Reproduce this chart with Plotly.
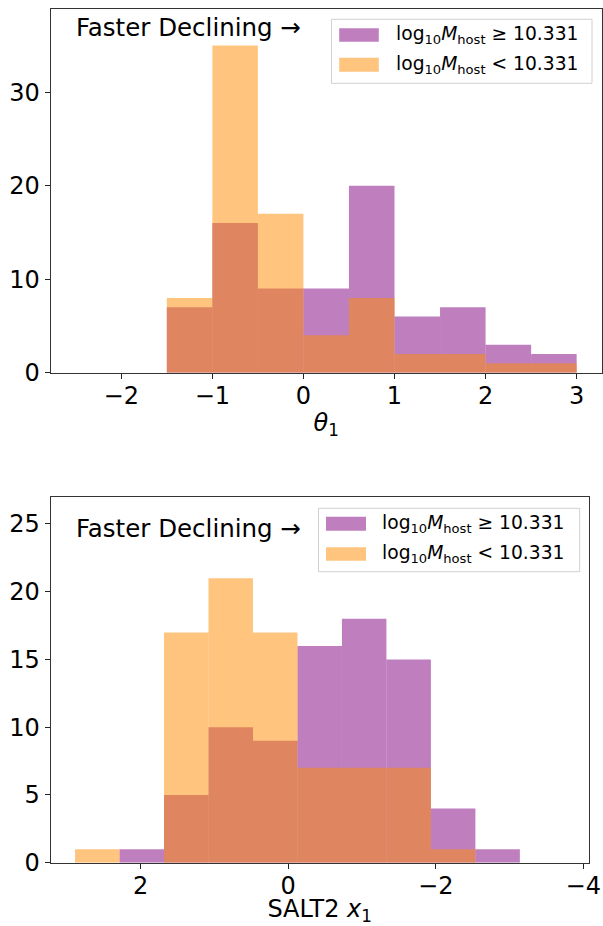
import numpy as np
import plotly.graph_objects as go

# ---------------- data ----------------
theta_edges = [-2.5, -2.0, -1.5, -1.0, -0.5, 0.0, 0.5, 1.0, 1.5, 2.0, 2.5, 3.0]
theta_high = [0, 0, 7, 16, 9, 9, 20, 6, 7, 3, 2]
theta_low = [0, 0, 8, 35, 17, 4, 8, 2, 2, 1, 1]

x1_edges = [2.89, 2.287, 1.684, 1.081, 0.478, -0.125, -0.728, -1.331, -1.934, -2.537, -3.14]
x1_high = [0, 1, 5, 10, 9, 16, 18, 15, 4, 1]
x1_low = [1, 0, 17, 21, 17, 7, 7, 7, 1, 0]

label_high = "log<sub>10</sub><i>M</i><sub>host</sub> ≥ 10.331"
label_low = "log<sub>10</sub><i>M</i><sub>host</sub> < 10.331"
note_text = "Faster Declining →"

theta_ticks = [-2, -1, 0, 1, 2, 3]
theta_yticks = [0, 10, 20, 30]
x1_ticks = [2, 0, -2, -4]
x1_yticks = [0, 5, 10, 15, 20, 25]

# ---------------- styling ----------------
W, H = 603, 926
FONT = "DejaVu Sans"
PURPLE = "rgba(128,0,128,0.5)"
ORANGE = "rgba(255,140,0,0.5)"


def px(x, y):
    return x / W, 1 - y / H


def centers_widths(edges):
    e = np.asarray(edges, dtype=float)
    return (e[:-1] + e[1:]) / 2, np.abs(np.diff(e))


fig = go.Figure()

tc, tw = centers_widths(theta_edges)
xc, xw = centers_widths(x1_edges)

fig.add_trace(go.Bar(x=tc, y=theta_high, width=tw, marker=dict(color=PURPLE, line=dict(width=0)),
                     name="high", xaxis="x", yaxis="y", showlegend=False))
fig.add_trace(go.Bar(x=tc, y=theta_low, width=tw, marker=dict(color=ORANGE, line=dict(width=0)),
                     name="low", xaxis="x", yaxis="y", showlegend=False))
fig.add_trace(go.Bar(x=xc, y=x1_high, width=xw, marker=dict(color=PURPLE, line=dict(width=0)),
                     name="high", xaxis="x2", yaxis="y2", showlegend=False))
fig.add_trace(go.Bar(x=xc, y=x1_low, width=xw, marker=dict(color=ORANGE, line=dict(width=0)),
                     name="low", xaxis="x2", yaxis="y2", showlegend=False))

axis_common = dict(
    showline=True, linecolor="#333", linewidth=1, mirror=True,
    ticks="outside", ticklen=5, tickwidth=1, tickcolor="#222",
    showgrid=False, zeroline=False, automargin=False,
    tickfont=dict(family=FONT, size=24, color="black"),
)

top_dom_y = [1 - 372.7 / H, 1 - 8.5 / H]
bot_dom_y = [1 - 862.7 / H, 1 - 497.3 / H]

fig.update_layout(
    width=W, height=H,
    margin=dict(l=0, r=0, t=0, b=0),
    paper_bgcolor="white", plot_bgcolor="white",
    barmode="overlay",
    showlegend=False,
    font=dict(family=FONT, color="black"),
    xaxis=dict(axis_common, domain=[50.7 / W, 601.7 / W], anchor="y",
               range=[-2.775, 3.275], tickvals=theta_ticks, ticklabelstandoff=-4,
               title=dict(text="<i>θ</i><sub>1</sub>", font=dict(family=FONT, size=24), standoff=5)),
    yaxis=dict(axis_common, domain=top_dom_y, anchor="x",
               range=[0, 38.95], tickvals=theta_yticks),
    xaxis2=dict(axis_common, domain=[50.7 / W, 588.7 / W], anchor="y2",
                range=[3.22, -4.073], tickvals=x1_ticks, ticklabelstandoff=-4,
                title=dict(text="SALT2 <i>x</i><sub>1</sub>", font=dict(family=FONT, size=24), standoff=5)),
    yaxis2=dict(axis_common, domain=bot_dom_y, anchor="x2",
                range=[0, 26.97], tickvals=x1_yticks),
)

shapes = []
annotations = []


def add_panel_decor(note_xy, box, patches, text_x):
    # note text
    nx, ny = px(*note_xy)
    annotations.append(dict(text=note_text, x=nx, y=ny, xref="paper", yref="paper",
                            xanchor="left", yanchor="middle", showarrow=False,
                            font=dict(family=FONT, size=24.5, color="black")))
    # legend frame
    x0, y0 = px(box[0], box[1])
    x1, y1 = px(box[2], box[3])
    shapes.append(dict(type="rect", xref="paper", yref="paper", x0=x0, y0=y1, x1=x1, y1=y0,
                       line=dict(color="#d0d0d0", width=1), fillcolor="rgba(255,255,255,0.8)",
                       layer="above"))
    for (px0, py0, px1, py1), col, lab in zip(patches, [PURPLE, ORANGE], [label_high, label_low]):
        a0, b0 = px(px0, py0)
        a1, b1 = px(px1, py1)
        shapes.append(dict(type="rect", xref="paper", yref="paper", x0=a0, y0=b1, x1=a1, y1=b0,
                           line=dict(width=0), fillcolor=col, layer="above"))
        tx, ty = px(text_x, (py0 + py1) / 2)
        annotations.append(dict(text=lab, x=tx, y=ty, xref="paper", yref="paper",
                                xanchor="left", yanchor="middle", showarrow=False,
                                font=dict(family=FONT, size=18.7, color="black")))


add_panel_decor((74, 27), (331.5, 19.3, 592, 83.3),
                [(339.2, 28.3, 378.8, 41.7), (339.2, 57.7, 378.8, 71.7)], 394)
add_panel_decor((74, 528), (318.5, 508.3, 579.7, 571.7),
                [(326, 516.7, 366, 530.7), (326, 547.3, 366, 560.7)], 380)

fig.update_layout(shapes=shapes, annotations=annotations)

fig.write_html("out.html", config={"displayModeBar": False},
               post_script="document.body.style.margin='0';document.body.style.padding='0';")
